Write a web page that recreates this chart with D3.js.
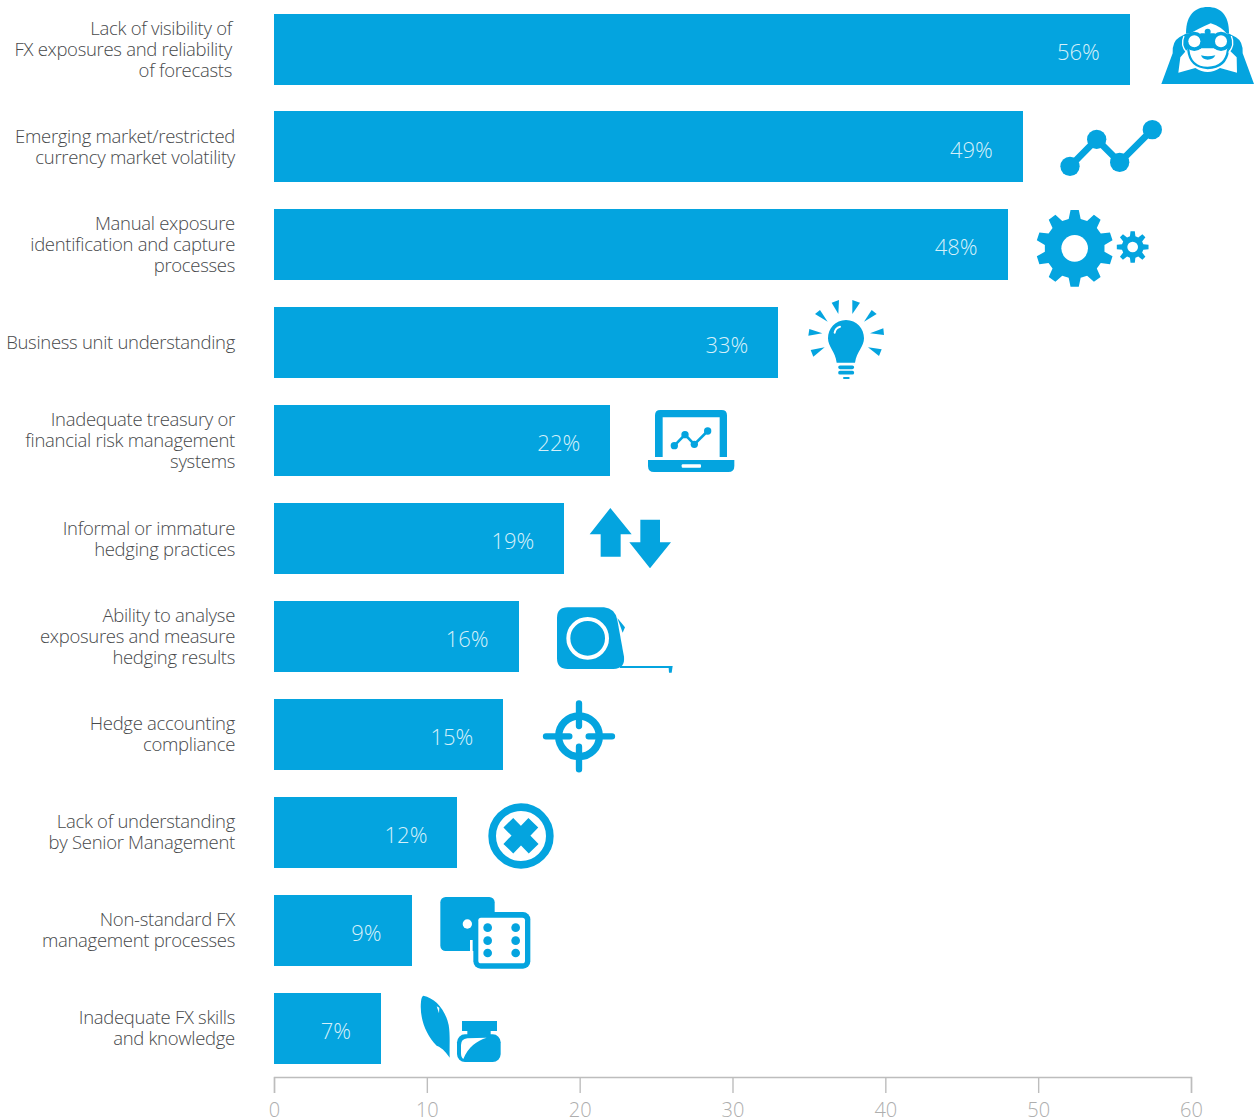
<!DOCTYPE html>
<html>
<head>
<meta charset="utf-8">
<script src="https://cdn.jsdelivr.net/npm/d3@7"></script>
<style>
  html, body { margin: 0; padding: 0; background: #fff; }
  svg { display: block; }
  text { font-family: "Open Sans", sans-serif; font-weight: 300; }
</style>
</head>
<body>
<div id="chart"></div>
<script>
// Barriers to FX risk management, share of respondents (%)
const categories = [
  ["Lack of visibility of", "FX exposures and reliability", "of forecasts"],
  ["Emerging market/restricted", "currency market volatility"],
  ["Manual exposure", "identification and capture", "processes"],
  ["Business unit understanding"],
  ["Inadequate treasury or", "financial risk management", "systems"],
  ["Informal or immature", "hedging practices"],
  ["Ability to analyse", "exposures and measure", "hedging results"],
  ["Hedge accounting", "compliance"],
  ["Lack of understanding", "by Senior Management"],
  ["Non-standard FX", "management processes"],
  ["Inadequate FX skills", "and knowledge"]
];
const shares = [56, 49, 48, 33, 22, 19, 16, 15, 12, 9, 7];
const axisTicks = [0, 10, 20, 30, 40, 50, 60];

const BLUE = "#04a4df";
const W = 1257, H = 1120;

const svg = d3.select("#chart").append("svg").attr("width", W).attr("height", H);

const x = d3.scaleLinear().domain([0, 60]).range([274, 1191]);
const y = d3.scaleBand()
  .domain(categories.map((d, i) => i))
  .range([13.6, 1063.6])
  .paddingInner(0.2745);

// Bars
svg.append("g").selectAll("rect").data(shares).join("rect")
  .attr("x", x(0))
  .attr("y", (d, i) => Math.round(y(i)))
  .attr("width", d => Math.round(x(d) - x(0)))
  .attr("height", 71)
  .attr("fill", BLUE);

// Value labels inside the bar ends
svg.append("g").selectAll("text").data(shares).join("text")
  .attr("x", d => x(d) - 30)
  .attr("y", (d, i) => y(i) + y.bandwidth() / 2 + 10.5)
  .attr("text-anchor", "end")
  .attr("font-size", 22)
  .attr("fill", "#d5f0fa")
  .text(d => d + "%");

// Right-aligned category labels, one tspan per line
const LINE = 21;
const catLabels = svg.append("g").selectAll("text").data(categories).join("text")
  .attr("text-anchor", "end")
  .attr("font-size", 18.5)
  .attr("letter-spacing", -0.3)
  .attr("fill", "#47494b");
catLabels.each(function (lines, i) {
  const cy = y(i) + y.bandwidth() / 2;
  const first = cy - (lines.length - 1) * LINE / 2 + 6.5;
  d3.select(this).selectAll("tspan").data(lines).join("tspan")
    .attr("x", i === 0 ? 232 : 235)
    .attr("y", (d, k) => first + k * LINE)
    .text(d => d);
});

// Value axis
const axis = svg.append("g")
  .attr("transform", "translate(0,1077)")
  .call(d3.axisBottom(x).tickValues(axisTicks).tickSize(16).tickPadding(10));
axis.selectAll("path, line").attr("stroke", "#bdbdbd").attr("stroke-width", 1.4);
axis.selectAll("text")
  .attr("font-size", 20)
  .attr("font-family", '"Open Sans", sans-serif')
  .attr("fill", "#aeaeae");

// Pictograms: each is sketched on a 3x grid and scaled into place
function icon(tx, ty) {
  return svg.append("g").attr("transform", `translate(${tx},${ty}) scale(${1 / 3})`);
}
function gearPath(cx, cy, outer, root, teeth) {
  const pts = [];
  const step = 2 * Math.PI / teeth;
  for (let i = 0; i < teeth; i++) {
    const a = i * step - Math.PI / 2;
    const at = (r, da) => [cx + r * Math.cos(a + da * step), cy + r * Math.sin(a + da * step)];
    pts.push(at(root, -0.32), at(outer, -0.17), at(outer, 0.17), at(root, 0.32));
  }
  return d3.line()(pts) + "Z";
}
function poly(g, pts, fill) {
  return g.append("polygon").attr("points", pts.join(" ")).attr("fill", fill || BLUE);
}
function roundRect(g, x0, y0, x1, y1, r, fill) {
  return g.append("rect").attr("x", x0).attr("y", y0).attr("width", x1 - x0)
    .attr("height", y1 - y0).attr("rx", r).attr("fill", fill || BLUE);
}
function dot(g, cx, cy, r, fill) {
  return g.append("circle").attr("cx", cx).attr("cy", cy).attr("r", r).attr("fill", fill || BLUE);
}
function path(g, d, fill) {
  return g.append("path").attr("d", d).attr("fill", fill || BLUE);
}
function stroke(g, d, w, cap) {
  return g.append("path").attr("d", d).attr("fill", "none").attr("stroke", BLUE)
    .attr("stroke-width", w).attr("stroke-linecap", cap || "round").attr("stroke-linejoin", "round");
}

// Person with binoculars
(function () {
  const g = icon(1020, 0);
  path(g, "M424,252 L458,160 Q456,125 478,112 L500,100 L625,100 L648,112 Q670,125 668,160 L702,252 Z");
  path(g, "M498,100 C498,45 525,21 563,21 C602,21 627,45 627,100 Z");
  path(g, "M502,106 Q530,88 572,70 Q606,80 624,106 Z", "#fff");
  path(g, "M481,172 L505,145 L622,145 L650,172 L651,218 L600,204 Q563,228 526,204 L475,218 Z", "#fff");
  stroke(g, "M505,150 Q510,202 563,204 Q618,202 624,150", 7);
  path(g, "M543,166 Q563,172 586,166 Q580,179 563,179 Q548,179 543,166 Z");
  dot(g, 563, 95, 9);
  roundRect(g, 540, 100, 586, 135, 4);
  dot(g, 523, 124, 29);
  dot(g, 603, 124, 29);
  g.append("path").attr("d", "M492,108 Q480,135 500,158 M634,108 Q646,135 626,158")
    .attr("fill", "none").attr("stroke", "#fff").attr("stroke-width", 4);
  dot(g, 523, 124, 18, "#fff");
  dot(g, 603, 124, 18, "#fff");
})();

// Zig-zag trend line
(function () {
  const g = icon(1020, 0);
  stroke(g, "M150,499 L230,418 L299,487 L397,389", 20);
  [[150, 499], [230, 418], [299, 487], [397, 389]].forEach(p => dot(g, p[0], p[1], 29));
})();

// Pair of gears
(function () {
  const g = icon(1020, 0);
  path(g, gearPath(164, 745, 116, 90, 10));
  dot(g, 164, 745, 40, "#fff");
  path(g, gearPath(338, 741, 48, 33, 8));
  dot(g, 338, 741, 16, "#fff");
})();

// Light bulb with rays
(function () {
  const g = icon(540, 290);
  [
    [[875, 38], [897, 30], [895, 72]],
    [[937, 30], [960, 38], [937, 72]],
    [[825, 72], [840, 60], [863, 95]],
    [[1010, 72], [995, 60], [972, 95]],
    [[808, 117], [805, 137], [847, 130]],
    [[1030, 115], [1032, 135], [990, 130]],
    [[812, 180], [820, 200], [854, 172]],
    [[1025, 178], [1017, 198], [984, 172]]
  ].forEach(t => poly(g, t));
  path(g, "M918,90 C950,90 972,115 972,145 C972,170 950,185 945,218 L890,218 C886,185 864,170 864,145 C864,115 886,90 918,90 Z");
  stroke(g, "M900,232 L937,232 M900,248 L937,248", 11);
  stroke(g, "M912,264 L926,264", 6);
  g.append("path").attr("d", "M884,128 Q886,114 900,110").attr("fill", "none")
    .attr("stroke", "#fff").attr("stroke-width", 6).attr("stroke-linecap", "round");
})();

// Laptop showing a trend
(function () {
  const g = icon(540, 290);
  path(g, "M345,501 L345,376 Q345,360 361,360 L545,360 Q561,360 561,376 L561,501 L539,501 L539,382 L368,382 L368,501 Z");
  path(g, "M324,510 L583,510 L583,528 Q583,546 565,546 L342,546 Q324,546 324,528 Z");
  roundRect(g, 425, 523, 483, 533, 3, "#fff");
  stroke(g, "M403,467 L435,434 L463,463 L503,423", 8);
  [[403, 467], [435, 434], [463, 463], [503, 423]].forEach(p => dot(g, p[0], p[1], 11));
})();

// Up and down arrows
(function () {
  const g = icon(540, 290);
  poly(g, [[211, 654], [275, 733], [242, 733], [242, 800], [182, 800], [182, 733], [149, 733]]);
  poly(g, [[301, 689], [360, 689], [360, 757], [393, 757], [330, 835], [268, 757], [301, 757]]);
})();

// Tape measure
(function () {
  const g = icon(400, 590);
  path(g, "M503,52 L612,52 Q645,55 652,90 L672,200 Q676,235 640,237 L503,237 Q471,237 471,205 L471,84 Q471,52 503,52 Z");
  g.append("circle").attr("cx", 563).attr("cy", 145).attr("r", 58)
    .attr("fill", "none").attr("stroke", "#fff").attr("stroke-width", 12);
  path(g, "M652,84 L675,112 L668,128 Z");
  path(g, "M660,228 L818,228 L815,248 L807,248 L806,234 L660,234 Z");
})();

// Crosshair target
(function () {
  const g = icon(400, 590);
  g.append("circle").attr("cx", 537).attr("cy", 439).attr("r", 61)
    .attr("fill", "none").attr("stroke", BLUE).attr("stroke-width", 22);
  stroke(g, "M537,340 L537,408 M537,470 L537,538 M438,439 L508,439 M566,439 L636,439", 19);
})();

// Circled cross
(function () {
  const g = icon(400, 590);
  g.append("circle").attr("cx", 363).attr("cy", 738).attr("r", 86.5)
    .attr("fill", "none").attr("stroke", BLUE).attr("stroke-width", 23);
  stroke(g, "M325,698 L401,776 M400,698 L325,776", 41, "butt");
})();

// Pair of dice
(function () {
  const g = icon(260, 885);
  roundRect(g, 541, 36, 704, 198, 16);
  dot(g, 622, 117, 14, "#fff");
  g.append("path").attr("d", "M634,165 L634,200").attr("stroke", "#fff").attr("stroke-width", 8);
  roundRect(g, 640, 81, 811, 251, 22);
  roundRect(g, 655, 98, 795, 235, 8, "#fff");
  [683, 767].forEach(cx => [128, 167, 204].forEach(cy => dot(g, cx, cy, 13)));
})();

// Quill and ink pot
(function () {
  const g = icon(260, 885);
  path(g, "M490,332 C525,340 555,370 566,420 C571,450 568,480 569,518 C560,505 550,490 530,482 C498,450 478,400 483,350 Q484,335 490,332 Z");
  poly(g, [[530, 364], [538, 368], [537, 385]], "#fff");
  roundRect(g, 606, 408, 711, 438, 0);
  roundRect(g, 622, 436, 692, 452, 0);
  roundRect(g, 591, 448, 722, 531, 24);
  path(g, "M610,522 C625,485 650,468 680,458 L622,460 Q603,462 603,480 L603,505 Q603,518 610,522 Z", "#fff");
})();
</script>
</body>
</html>
